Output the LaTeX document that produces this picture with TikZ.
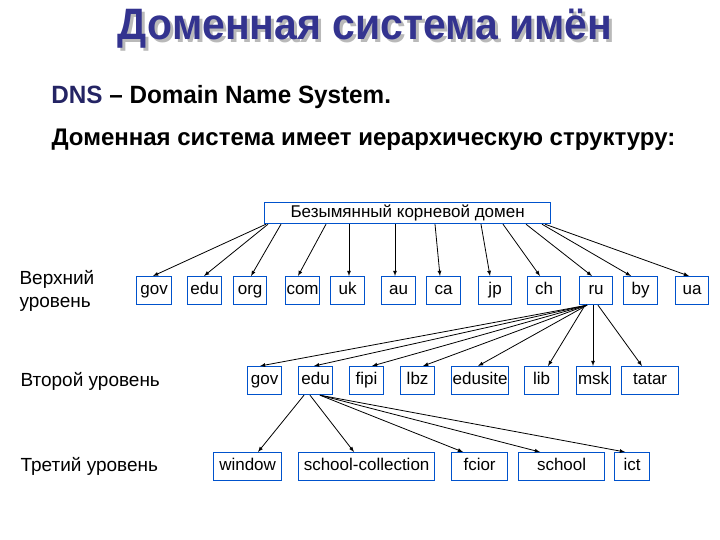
\documentclass[tikz,border=0pt]{standalone}
\usepackage{fontspec}
\setmainfont{Liberation Sans}
\begin{document}
\begin{tikzpicture}[x=1pt,y=-1pt,
  bx/.style={draw=blue!60!cyan!80!black,line width=1.2pt,minimum height=28pt,inner sep=0pt,text height=12pt,text depth=3.5pt,font=\fontsize{17}{17}\selectfont,anchor=north west,fill=white},
  ar/.style={-latex,line width=0.8pt}]
\useasboundingbox (0,0) rectangle (720,540);
\definecolor{titlec}{RGB}{51,51,143}
\node[text=gray!55,font=\bfseries\fontsize{44}{44}\selectfont,xscale=0.93] at (368,32) {Доменная система имён};
\node[text=titlec,font=\bfseries\fontsize{44}{44}\selectfont,xscale=0.93] (title) at (365,29) {Доменная система имён};
\node[anchor=west,font=\bfseries\fontsize{25}{25}\selectfont,xscale=0.97] (dns) at (48,97) {\textcolor{titlec!70!black}{DNS} – Domain Name System.};
\node[anchor=west,font=\bfseries\fontsize{24}{24}\selectfont,xscale=1.0] (sub) at (48,140) {Доменная система имеет иерархическую структуру:};
\node[anchor=north west,align=left,font=\fontsize{19}{23}\selectfont] (l1) at (16,267) {Верхний\\уровень};
\node[anchor=west,font=\fontsize{19}{19}\selectfont] (l2) at (17,381) {Второй уровень};
\node[anchor=west,font=\fontsize{19}{19}\selectfont] (l3) at (17,466) {Третий уровень};
\node[bx,minimum width=286pt,minimum height=21pt,text height=11pt,text depth=3pt,font=\fontsize{17}{17}\selectfont] (root) at (264,202) {Безымянный корневой домен};
% row 1
\foreach \n/\t/\a/\b in {gov/gov/136/171,edu1/edu/187/221,org/org/233/266,com/com/285/319,uk/uk/330/364,au/au/381/415,ca/ca/426/460,jp/jp/478/511,ch/ch/527/560,ru/ru/579/612,by/by/623/657,ua/ua/675/708}
  \node[bx,minimum width={\b-\a}] (\n) at (\a,276) {\t};
% row 2
\foreach \n/\t/\a/\b in {gov2/gov/247/281,edu2/edu/298/332,fipi/fipi/349/383,lbz/lbz/400/434,edusite/edusite/451/508,lib/lib/524/558,msk/msk/576/610,tatar/tatar/621/678}
  \node[bx,minimum width={\b-\a}] (\n) at (\a,366) {\t};
% row 3
\foreach \n/\t/\a/\b in {window/window/213/281,sc/school-collection/298/434,fcior/fcior/451/507,school/school/518/604,ict/ict/614/649}
  \node[bx,minimum width={\b-\a}] (\n) at (\a,452) {\t};
% root arrows
\foreach \n/\s/\e in {gov/266/153,edu1/268/204,org/281/251,com/326/298,uk/349/349,au/395/395,ca/435/440,jp/481/490,ch/503/540,ru/526/592,by/542/631,ua/545/689}
  \draw[ar] (root.south west -| \s,0) -- (\n.north west -| \e,0);
% ru arrows
\foreach \n/\s/\e in {gov2/587/260,edu2/587/314,fipi/587/372,lbz/587/423,edusite/587/478,lib/585/548,msk/593/593,tatar/598/642}
  \draw[ar] (ru.south west -| \s,0) -- (\n.north west -| \e,0);
% edu arrows
\foreach \n/\s/\e in {window/304/258,sc/310/354,fcior/320/463,school/320/540,ict/320/625}
  \draw[ar] (edu2.south west -| \s,0) -- (\n.north west -| \e,0);
\end{tikzpicture}
\end{document}
